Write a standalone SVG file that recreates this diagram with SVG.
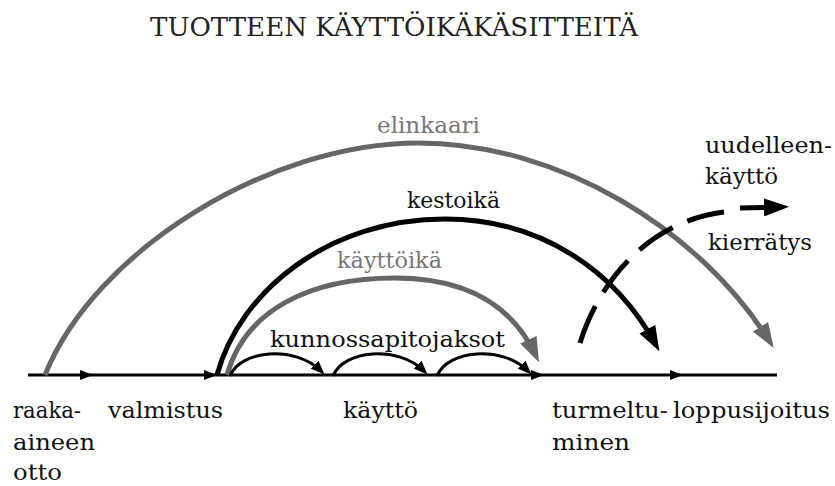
<svg xmlns="http://www.w3.org/2000/svg" width="835" height="486" viewBox="0 0 835 486">
<defs>
<style>
text{font-family:"DejaVu Serif","Liberation Serif",serif;font-size:23px;fill:#111}
.gt{fill:#777}
.title{font-size:26px;fill:#222}
.arcG{fill:none;stroke:#666;stroke-width:5}
.arcB{fill:none;stroke:#000;stroke-width:5}
.small{fill:none;stroke:#000;stroke-width:3}
.base{stroke:#000;stroke-width:3}
</style>
<marker id="hg" markerUnits="userSpaceOnUse" markerWidth="26" markerHeight="18" refX="18" refY="9" orient="auto"><path d="M0,0 L25,9 L0,18 z" fill="#666"/></marker>
<marker id="hb" markerUnits="userSpaceOnUse" markerWidth="26" markerHeight="18" refX="18" refY="9" orient="auto"><path d="M0,0 L25,9 L0,18 z" fill="#000"/></marker>
<marker id="hs" markerUnits="userSpaceOnUse" markerWidth="14" markerHeight="11" refX="9" refY="5.5" orient="auto"><path d="M0,0 L14,5.5 L0,11 z" fill="#000"/></marker>
</defs>
<rect width="835" height="486" fill="#fff"/>
<text class="title" x="150" y="36" textLength="488" lengthAdjust="spacingAndGlyphs">TUOTTEEN KÄYTTÖIKÄKÄSITTEITÄ</text>

<g id="connectors">
<g id="timeline">
<line class="base" x1="28" y1="375" x2="777" y2="375"/>
<polygon points="80,370 93,375 80,380" fill="#000"/>
<polygon points="204,370 217,375 204,380" fill="#000"/>
<polygon points="531,370 544,375 531,380" fill="#000"/>
<polygon points="670,370 683,375 670,380" fill="#000"/>
</g>
<path id="arc-elinkaari" class="arcG" d="M45,375 C95,250 270,143 418,143 C560,143 700,230 770,342" marker-end="url(#hg)"/>
<path id="arc-kestoika" class="arcB" d="M217,375 C240,290 330,219 445,219 C540,219 615,270 656,345" marker-end="url(#hb)"/>
<path id="arc-kayttoika" class="arcG" d="M227,375 C245,310 310,278 395,278 C460,278 510,300 536,356" marker-end="url(#hg)"/>
<path class="small" d="M230,376 C240,350 295,345 321,371" marker-end="url(#hs)"/>
<path class="small" d="M333,376 C343,350 398,345 424,371" marker-end="url(#hs)"/>
<path class="small" d="M437,376 C447,350 502,345 528,371" marker-end="url(#hs)"/>
<g id="recycle">
<path d="M580,343 C598,285 645,222 724,212" fill="none" stroke="#000" stroke-width="5" stroke-dasharray="40 16"/>
<line x1="740" y1="208" x2="782" y2="207" stroke="#000" stroke-width="5" marker-end="url(#hb)"/>
</g>
</g>

<g id="label-elinkaari"><text class="gt" x="377" y="133" textLength="103" lengthAdjust="spacingAndGlyphs">elinkaari</text></g>
<g id="label-kestoika"><text x="407" y="208" textLength="93" lengthAdjust="spacingAndGlyphs">kestoikä</text></g>
<g id="label-kayttoika"><text class="gt" x="337" y="268" textLength="105" lengthAdjust="spacingAndGlyphs">käyttöikä</text></g>
<g id="label-kunnossapito"><text x="270" y="347" textLength="235" lengthAdjust="spacingAndGlyphs">kunnossapitojaksot</text></g>
<g id="label-uudelleenkaytto">
<text x="705" y="153" textLength="127" lengthAdjust="spacingAndGlyphs">uudelleen-</text>
<text x="705" y="184" textLength="73" lengthAdjust="spacingAndGlyphs">käyttö</text>
</g>
<g id="label-kierratys"><text x="708" y="250" textLength="104" lengthAdjust="spacingAndGlyphs">kierrätys</text></g>

<g id="node-raaka">
<text x="13" y="418" textLength="68" lengthAdjust="spacingAndGlyphs">raaka-</text>
<text x="13" y="450" textLength="82" lengthAdjust="spacingAndGlyphs">aineen</text>
<text x="13" y="480" textLength="49" lengthAdjust="spacingAndGlyphs">otto</text>
</g>
<g id="node-valmistus"><text x="108" y="418" textLength="115" lengthAdjust="spacingAndGlyphs">valmistus</text></g>
<g id="node-kaytto"><text x="343" y="418" textLength="75" lengthAdjust="spacingAndGlyphs">käyttö</text></g>
<g id="node-turmeltuminen">
<text x="552" y="418" textLength="116" lengthAdjust="spacingAndGlyphs">turmeltu-</text>
<text x="552" y="450" textLength="78" lengthAdjust="spacingAndGlyphs">minen</text>
</g>
<g id="node-loppusijoitus"><text x="673" y="418" textLength="157" lengthAdjust="spacingAndGlyphs">loppusijoitus</text></g>
</svg>
